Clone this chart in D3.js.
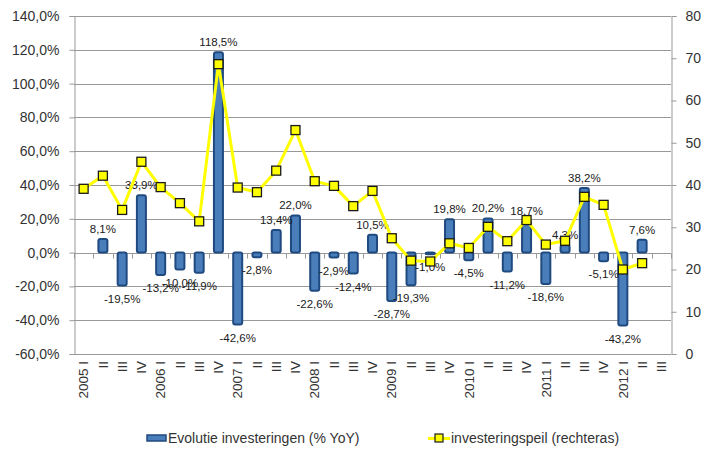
<!DOCTYPE html>
<html>
<head>
<meta charset="utf-8">
<script src="https://cdn.jsdelivr.net/npm/d3@7"></script>
<style>
  body { margin: 0; background: #fff; }
  svg { display: block; font-family: "Liberation Sans", Arial, sans-serif; }
</style>
</head>
<body>
<svg width="702" height="450"></svg>
<script>
// quarters 2005 I .. 2012 III
var years = ["2005", "2006", "2007", "2008", "2009", "2010", "2011", "2012"];
var quarters = ["I", "II", "III", "IV"];
var categories = [];
years.forEach(function(y) {
  quarters.forEach(function(q, j) {
    if (categories.length < 31) categories.push(j == 0 ? y + " " + q : q);
  });
});

// Evolutie investeringen (% YoY)
var growth = [null, 8.1, -19.5, 33.9, -13.2, -10.0, -11.9, 118.5, -42.6, -2.8, 13.4, 22.0,
  -22.6, -2.9, -12.4, 10.5, -28.7, -19.3, -1.0, 19.8, -4.5, 20.2, -11.2, 18.7,
  -18.6, 4.3, 38.2, -5.1, -43.2, 7.6, null];

// investeringspeil (rechteras)
var level = [39.1, 42.2, 34.1, 45.5, 39.5, 35.7, 31.4, 68.6, 39.4, 38.3, 43.4, 53.0,
  40.9, 39.8, 35.0, 38.6, 27.4, 22.1, 21.9, 26.2, 25.1, 30.1, 26.7, 31.7,
  25.9, 26.8, 37.2, 35.3, 20.0, 21.5, null];

var leftTicks = [-60, -40, -20, 0, 20, 40, 60, 80, 100, 120, 140];
var rightTicks = [0, 10, 20, 30, 40, 50, 60, 70, 80];

var svg = d3.select("svg");
var m = {left: 74, right: 671, top: 16, bottom: 354};
var gridColor = "#999";
var textColor = "#333";

// dutch style numbers: comma decimal, plain hyphen minus
var nl = d3.formatLocale({decimal: ",", thousands: ".", grouping: [3], currency: ["", " €"], minus: "-"});
var pct = function(d) { return nl.format(".1f")(d) + "%"; };

var x = d3.scaleBand()
    .domain(d3.range(categories.length))
    .range([m.left, m.right]);

var y = d3.scaleLinear().domain([-60, 140]).range([m.bottom, m.top]);
var y2 = d3.scaleLinear().domain([0, 80]).range([m.bottom, m.top]);

var cx = function(i) { return x(i) + x.bandwidth() / 2; };

// gridlines
svg.append("g")
  .selectAll("line")
  .data(leftTicks)
  .enter().append("line")
    .attr("x1", m.left)
    .attr("x2", m.right)
    .attr("y1", function(d) { return Math.round(y(d)) + 0.5; })
    .attr("y2", function(d) { return Math.round(y(d)) + 0.5; })
    .attr("stroke", gridColor);

// left axis
var yAxis = svg.append("g")
    .attr("transform", "translate(" + (m.left + 0.5) + ",0)")
    .call(d3.axisLeft(y).tickValues(leftTicks).tickFormat(pct).tickSize(5).tickPadding(10));

// right axis
var y2Axis = svg.append("g")
    .attr("transform", "translate(" + (m.right + 0.5) + ",0)")
    .call(d3.axisRight(y2).tickValues(rightTicks).tickSize(5).tickPadding(9));

[yAxis, y2Axis].forEach(function(a) {
  a.select(".domain").attr("stroke", gridColor);
  a.selectAll(".tick line").attr("stroke", gridColor);
  a.selectAll(".tick text")
    .attr("fill", textColor)
    .attr("font-size", "14px");
  a.attr("font-family", null);
});

// category axis at zero
var zeroY = Math.round(y(0)) + 0.5;
svg.append("line")
    .attr("x1", m.left).attr("x2", m.right)
    .attr("y1", zeroY).attr("y2", zeroY)
    .attr("stroke", gridColor);

svg.append("g")
  .selectAll("line")
  .data(d3.range(categories.length + 1))
  .enter().append("line")
    .attr("x1", function(i) { return Math.round(m.left + i * x.step()) + 0.5; })
    .attr("x2", function(i) { return Math.round(m.left + i * x.step()) + 0.5; })
    .attr("y1", zeroY)
    .attr("y2", zeroY + 5)
    .attr("stroke", gridColor);

// category labels, rotated
svg.append("g")
  .selectAll("text")
  .data(categories)
  .enter().append("text")
    .attr("transform", function(d, i) {
      return "translate(" + cx(i) + "," + (m.bottom + 7) + ") rotate(-90)";
    })
    .attr("dy", "0.35em")
    .attr("text-anchor", "end")
    .attr("font-size", "13.5px")
    .attr("fill", textColor)
    .text(function(d) { return d; });

// bars
var barW = 11;
var barData = growth.map(function(v, i) { return {i: i, v: v}; })
    .filter(function(d) { return d.v != null; });

svg.append("g")
  .selectAll("rect")
  .data(barData)
  .enter().append("rect")
    .attr("x", function(d) { return cx(d.i) - barW / 2 + 1; })
    .attr("width", barW - 2)
    .attr("y", function(d) { return Math.min(y(d.v), y(0)); })
    .attr("height", function(d) { return Math.abs(y(d.v) - y(0)); })
    .attr("rx", 2)
    .attr("fill", "#4a7ebb")
    .attr("stroke", "#1f4a80")
    .attr("stroke-width", 2);

// bar labels
svg.append("g")
  .selectAll("text")
  .data(barData)
  .enter().append("text")
    .attr("x", function(d) { return cx(d.i); })
    .attr("y", function(d) { return d.v >= 0 ? y(d.v) - 6 : y(d.v) + 17; })
    .attr("text-anchor", "middle")
    .attr("font-size", "11.5px")
    .attr("fill", "#1a1a1a")
    .text(function(d) { return pct(d.v); });

// line on right axis
var lineData = level.map(function(v, i) { return {i: i, v: v}; })
    .filter(function(d) { return d.v != null; });

var line = d3.line()
    .x(function(d) { return cx(d.i); })
    .y(function(d) { return y2(d.v); });

svg.append("path")
    .datum(lineData)
    .attr("d", line)
    .attr("fill", "none")
    .attr("stroke", "#ffff00")
    .attr("stroke-width", 3)
    .attr("stroke-linejoin", "round");

var mk = 9;
svg.append("g")
  .selectAll("rect")
  .data(lineData)
  .enter().append("rect")
    .attr("x", function(d) { return cx(d.i) - mk / 2; })
    .attr("y", function(d) { return y2(d.v) - mk / 2; })
    .attr("width", mk)
    .attr("height", mk)
    .attr("fill", "#ffff00")
    .attr("stroke", "#1a1a1a")
    .attr("stroke-width", 1.3);

// legend
var lg = svg.append("g").attr("font-size", "14px").attr("fill", textColor);
lg.append("rect")
    .attr("x", 147).attr("y", 435).attr("width", 19).attr("height", 6)
    .attr("fill", "#4a7ebb").attr("stroke", "#1f4a80").attr("stroke-width", 1.5);
lg.append("text")
    .attr("x", 168).attr("y", 443)
    .text("Evolutie investeringen (% YoY)");
lg.append("line")
    .attr("x1", 428).attr("x2", 450).attr("y1", 438.5).attr("y2", 438.5)
    .attr("stroke", "#ffff00").attr("stroke-width", 3);
lg.append("rect")
    .attr("x", 435).attr("y", 434).attr("width", 8).attr("height", 8)
    .attr("fill", "#ffff00").attr("stroke", "#1a1a1a").attr("stroke-width", 1.2);
lg.append("text")
    .attr("x", 451).attr("y", 443)
    .text("investeringspeil (rechteras)");
</script>
</body>
</html>
